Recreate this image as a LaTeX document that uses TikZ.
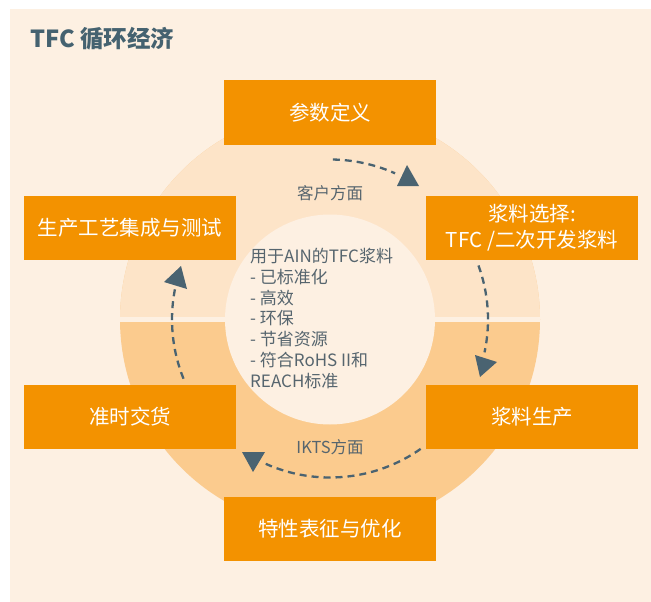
\documentclass[tikz,border=0pt]{standalone}
\usepackage{fontspec}
\setmainfont{Noto Sans CJK SC}
\usetikzlibrary{calc}
\definecolor{bg}{HTML}{FDF0E2}
\definecolor{upperc}{HTML}{FDE4C8}
\definecolor{lowerc}{HTML}{FBCB8E}
\definecolor{orangebox}{HTML}{F39200}
\definecolor{slate}{HTML}{4A6371}
\definecolor{txtgray}{HTML}{56656E}
\definecolor{titlec}{HTML}{456270}
\begin{document}
\begin{tikzpicture}[x=1pt,y=-1pt,
  stepbox/.style={fill=orangebox, minimum width=212pt, minimum height=64pt, inner sep=0pt, text=white, font=\fontsize{20.5}{26}\selectfont, align=center},
  flow/.style={draw=slate, line width=2.3pt, dash pattern=on 7pt off 5pt},
  tipfill/.style={fill=slate},
  lbl/.style={text=txtgray, font=\fontsize{16.5}{19}\selectfont, inner sep=0pt}]
\useasboundingbox (0,0) rectangle (651,602);
\fill[bg] (10,9) rectangle (651,602);
\coordinate (c) at (330,319.5);
\begin{scope}
  \clip (c) circle[radius=210];
  \fill[lowerc] (110,100) rectangle (550,540);
  \fill[upperc] (110,100) rectangle (550,317);
  \fill[bg] (110,317) rectangle (550,322);
\end{scope}
\fill[bg] (c) circle[radius=105];

\node[anchor=west, text=titlec, font=\bfseries\fontsize{23.5}{26}\selectfont, inner sep=0pt] (title) at (30,39) {TFC 循环经济};

\node[stepbox] (p1) at (330,112.5) {参数定义};
\node[stepbox] (p2) at (532,228) {浆料选择:\\TFC /二次开发浆料};
\node[stepbox] (p3) at (532,416.5) {浆料生产};
\node[stepbox] (p4) at (330,529) {特性表征与优化};
\node[stepbox] (p5) at (130,416.5) {准时交货};
\node[stepbox] (p6) at (130,228) {生产工艺集成与测试};

\node[anchor=north west, inner sep=0pt, align=left, text=txtgray, font=\fontsize{17}{20.8}\selectfont] (info) at (250,248) {用于AIN的TFC浆料\\- 已标准化\\- 高效\\- 环保\\- 节省资源\\- 符合RoHS II和\\REACH标准};

\node[lbl] (l1) at (330,193) {客户方面};
\node[lbl] (l2) at (330,447) {IKTS方面};

\draw[flow] ($(c)+(-89:160)$) arc[start angle=-89, end angle=-66, radius=160];
\draw[flow] ($(c)+(-20:158)$) arc[start angle=-20, end angle=12, radius=158];
\draw[flow] ($(c)+(55:158)$) arc[start angle=55, end angle=114, radius=158];
\draw[flow] ($(c)+(158:158)$) arc[start angle=158, end angle=191, radius=158];

\fill[tipfill] (407,165) -- (397,186) -- (419,186) -- cycle;
\fill[tipfill] (475,355) -- (497,362) -- (480,377) -- cycle;
\fill[tipfill] (242,452) -- (265,452) -- (253,472) -- cycle;
\fill[tipfill] (164,282) -- (181,266) -- (187,289) -- cycle;
\end{tikzpicture}
\end{document}
